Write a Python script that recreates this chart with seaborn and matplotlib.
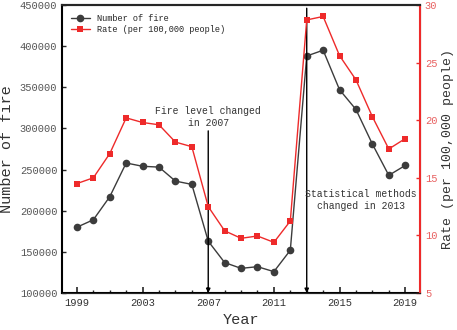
import numpy as np
import pandas as pd
import matplotlib
matplotlib.use('Agg')
import matplotlib.pyplot as plt
import seaborn as sns
from matplotlib.ticker import MultipleLocator

sns.set_style("ticks")
plt.rcParams['font.family'] = ['Liberation Mono', 'DejaVu Sans']

years = list(range(1999, 2020))
fires = [180000, 189000, 217000, 258000, 254000, 253000, 236000, 232000,
         163000, 137000, 130000, 132000, 126000, 152000, 388000, 395000,
         347000, 323000, 281000, 243000, 255000]
rate = [14.5, 15.0, 17.1, 20.2, 19.8, 19.6, 18.1, 17.7, 12.5, 10.4, 9.75,
        9.95, 9.4, 11.25, 28.7, 29.0, 25.6, 23.5, 20.3, 17.5, 18.4]

dark = '#3c3c3c'
red = '#ee2a2a'

df = pd.DataFrame({'Year': years, 'fires': fires, 'rate': rate})

fig = plt.figure(figsize=(4.57, 3.30), dpi=100)
ax = fig.add_axes([0.136, 0.112, 0.783, 0.873])
ax2 = ax.twinx()

sns.lineplot(data=df, x='Year', y='fires', ax=ax, color=dark, marker='o',
             markersize=5.5, markeredgewidth=0, linewidth=1, label='Number of fire')
sns.lineplot(data=df, x='Year', y='rate', ax=ax2, color=red, marker='s',
             markersize=5, markeredgewidth=0, linewidth=1,
             label='Rate (per 100,000 people)')

ax.set_xlim(1998.1, 2019.9)
ax.set_ylim(100000, 450000)
ax2.set_ylim(5, 30)
ax.set_xticks([1999, 2003, 2007, 2011, 2015, 2019])
ax.xaxis.set_minor_locator(MultipleLocator(1))
ax.set_yticks(range(100000, 450001, 50000))
ax2.set_yticks([5, 10, 15, 20, 25, 30])

ax.tick_params(axis='x', which='major', direction='in', length=4, width=1.2,
               labelsize=7.5, labelcolor='#333333')
ax.tick_params(axis='x', which='minor', direction='in', length=2.5, width=1)
ax.tick_params(axis='y', direction='in', length=3, width=1,
               labelsize=7.5, labelcolor='#555555')
ax2.tick_params(axis='y', direction='in', length=3, width=1, colors=red,
                labelsize=7.5, labelcolor='#e86060')

for s in ['left', 'bottom', 'top']:
    ax.spines[s].set_linewidth(1.5)
    ax.spines[s].set_color('black')
ax2.spines['right'].set_color(red)
ax2.spines['right'].set_linewidth(1.5)
ax2.spines['top'].set_linewidth(1.5)
ax2.spines['left'].set_visible(False)

ax.set_xlabel('Year', fontsize=11, color='#333333', labelpad=4)
ax.set_ylabel('Number of fire', fontsize=11, color='#333333', labelpad=4)
ax2.set_ylabel('Rate (per 100,000 people)', fontsize=9.5, color='#333333',
               rotation=90, labelpad=3)

# legend combining both lines
h1, l1 = ax.get_legend_handles_labels()
h2, l2 = ax2.get_legend_handles_labels()
if ax2.get_legend():
    ax2.get_legend().remove()
ax.legend(h1 + h2, l1 + l2, loc='upper left', frameon=False, fontsize=6.2,
          handlelength=2.2, borderaxespad=0.6, labelspacing=0.3)

# annotations
ax.annotate('', xy=(2007, 100000), xytext=(2007, 297000),
            arrowprops=dict(arrowstyle='-|>', color='black', lw=1,
                            mutation_scale=6, shrinkA=0, shrinkB=0))
ax.text(2007, 300000, 'Fire level changed\nin 2007', ha='center', va='bottom',
        fontsize=7, color='#333333', linespacing=1.3)
ax.annotate('', xy=(2013, 100000), xytext=(2013, 446000),
            arrowprops=dict(arrowstyle='-|>', color='black', lw=1,
                            mutation_scale=6, shrinkA=0, shrinkB=0))
ax.text(2016.3, 213000, 'Statistical methods\nchanged in 2013', ha='center',
        va='center', fontsize=7, color='#333333', linespacing=1.3)

fig.savefig('out.png', dpi=100)
